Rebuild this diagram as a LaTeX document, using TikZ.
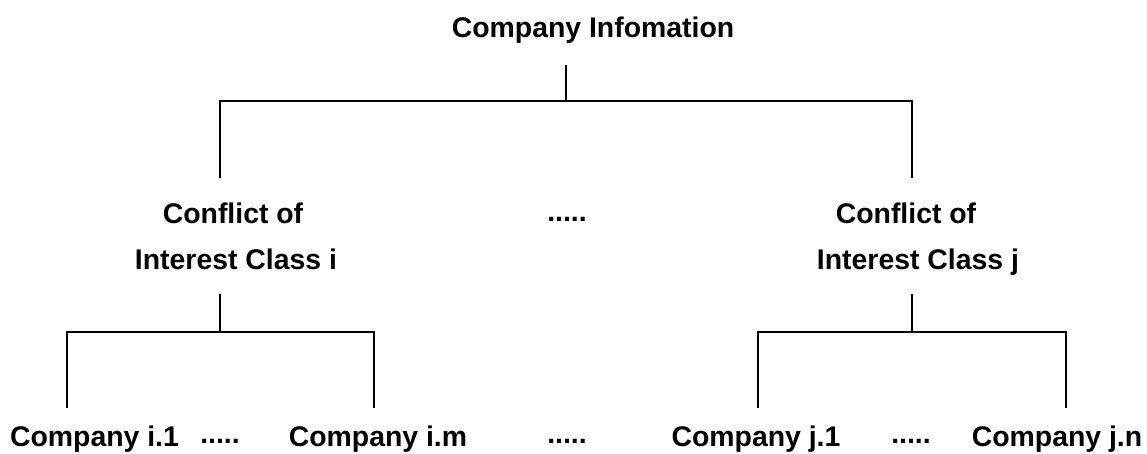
\documentclass[tikz,border=0pt]{standalone}
\usepackage{fontspec}
\setmainfont{Liberation Sans}
\begin{document}
\begin{tikzpicture}[x=1pt,y=-1pt,
  lbl/.style={anchor=base,inner sep=0pt,font=\fontsize{28.4}{34}\selectfont\bfseries},
  wire/.style={line width=1.6pt,line cap=butt}]
\useasboundingbox (0,0) rectangle (1147,453);

% labels
\node[lbl] (root) at (593,37) {Company Infomation};
\node[lbl] (ci1) at (233,223) {Conflict of};
\node[lbl] (ci2) at (236,269) {Interest Class i};
\node[lbl] (cdots) at (567,221) {.....};
\node[lbl] (cj1) at (906,223) {Conflict of};
\node[lbl] (cj2) at (918,269) {Interest Class j};
\node[lbl] (i1) at (94.5,446) {Company i.1};
\node[lbl] (idots) at (220,443) {.....};
\node[lbl] (im) at (378,446) {Company i.m};
\node[lbl] (mdots) at (567,443) {.....};
\node[lbl] (j1) at (756,446) {Company j.1};
\node[lbl] (jdots) at (911,443) {.....};
\node[lbl] (jn) at (1057,446) {Company j.n};

% junction points of the tree
\coordinate (rs) at (566,65);
\coordinate (rb) at (566,101);
\coordinate (rl) at (220,101);
\coordinate (rr) at (912,101);
\coordinate (ciT) at (220,178);
\coordinate (cjT) at (912,178);
\coordinate (ciB) at (220,294);
\coordinate (ciJ) at (220,332);
\coordinate (cjB) at (912,294);
\coordinate (cjJ) at (912,332);
\coordinate (i1L) at (67,332);
\coordinate (imR) at (374,332);
\coordinate (j1L) at (758,332);
\coordinate (jnR) at (1066,332);
\coordinate (i1T) at (67,408);
\coordinate (imT) at (374,408);
\coordinate (j1T) at (758,408);
\coordinate (jnT) at (1066,408);

% top level
\draw[wire] (rs) -- (rb);
\draw[wire] (ciT) -- (rl) -- (rr) -- (cjT);
% class i
\draw[wire] (ciB) -- (ciJ);
\draw[wire] (i1T) -- (i1L) -- (imR) -- (imT);
% class j
\draw[wire] (cjB) -- (cjJ);
\draw[wire] (j1T) -- (j1L) -- (jnR) -- (jnT);
\end{tikzpicture}
\end{document}
